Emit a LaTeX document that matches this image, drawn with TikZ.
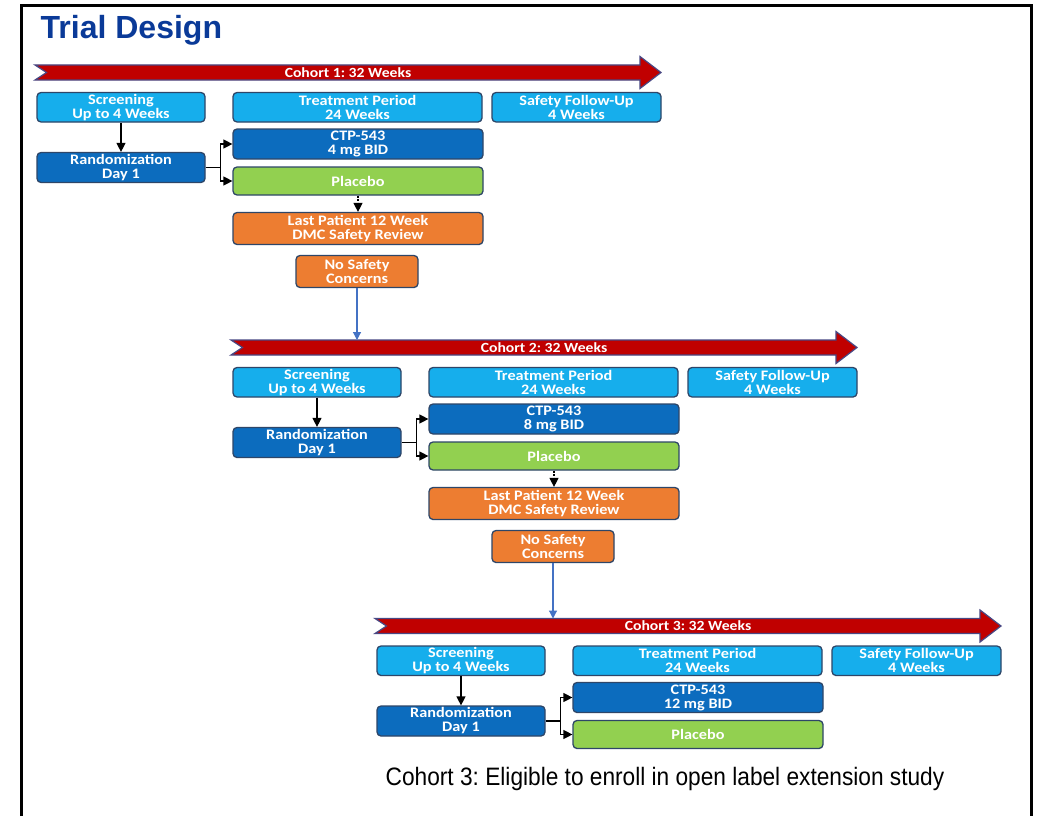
\documentclass[tikz,border=0pt]{standalone}
\usepackage{fontspec}
\usetikzlibrary{arrows.meta,calc}
\newfontfamily\boxfont{Carlito}[FakeStretch=1.12]
\newfontfamily\arialfont{Liberation Sans}
\newfontfamily\captionfont{Liberation Sans}[FakeStretch=0.9]
\frenchspacing
\definecolor{lightbox}{RGB}{22,174,236}
\definecolor{darkbox}{RGB}{12,108,190}
\definecolor{greenbox}{RGB}{146,208,80}
\definecolor{orangebox}{RGB}{237,125,49}
\definecolor{boxedge}{RGB}{46,70,104}
\definecolor{arrowred}{RGB}{192,0,0}
\definecolor{arrowedge}{RGB}{72,72,132}
\definecolor{titleblue}{RGB}{10,58,152}
\definecolor{linkblue}{RGB}{68,114,196}
\tikzset{
  box/.style={rounded corners=4pt, draw=boxedge, line width=1.3pt, text=white,
    font=\boxfont\bfseries\fontsize{14.5}{14}\selectfont, align=center, inner sep=0pt, outer sep=0.6pt},
  lightb/.style={box, fill=lightbox},
  darkb/.style={box, fill=darkbox},
  greenb/.style={box, fill=greenbox},
  orangeb/.style={box, fill=orangebox},
  conn/.style={line width=1.2pt, black, -{Triangle[length=9pt,width=9pt]}},
  dconn/.style={conn, dash pattern=on 2pt off 1.5pt},
  blueconn/.style={line width=1.2pt, linkblue, -{Triangle[length=8pt,width=8pt]}},
  cohortarrow/.style={fill=arrowred, draw=arrowedge, line width=1.2pt},
  arrowtext/.style={text=white, font=\boxfont\bfseries\fontsize{14}{16}\selectfont, inner sep=0pt}
}
\begin{document}
\begin{tikzpicture}[x=1pt,y=-1pt]
\useasboundingbox (0,0) rectangle (1038,816);
\fill[white] (0,0) rectangle (1038,816);
\draw[line width=3pt] (21.5,816) -- (21.5,5.5) -- (1031,5.5) -- (1031,816);
\node[anchor=base west, text=titleblue, font=\arialfont\bfseries\fontsize{32}{36}\selectfont, inner sep=0pt] (title) at (40.5,38.5) {Trial Design};
\foreach \n/\ox/\oy/\dose in {1/37/92.5/4, 2/233/367.5/8, 3/377/646/12}{
  % cohort arrow
  \pgfmathsetmacro{\L}{\ox-2}
  \pgfmathsetmacro{\T}{\ox+624}
  \pgfmathsetmacro{\H}{\ox+603}
  \pgfmathsetmacro{\N}{\ox+9.5}
  \pgfmathsetmacro{\cy}{\oy-20}
  \draw[cohortarrow] (\L,\cy-7.5) -- (\H,\cy-7.5) -- (\H,\cy-16) -- (\T,\cy) -- (\H,\cy+16) -- (\H,\cy+7.5) -- (\L,\cy+7.5) -- (\N,\cy) -- cycle;
  \coordinate (top\n) at ({\ox+123},{\cy-7.5});
  \node[arrowtext] (arr\n) at ({(\L+\T)/2},\cy) {Cohort \n: 32 Weeks};
  % boxes
  \node[lightb, minimum width=168pt, minimum height=29.5pt] (scr\n) at ({\ox+84},{\oy+14.75}) {Screening\\Up to 4 Weeks};
  \node[lightb, minimum width=249pt, minimum height=29.5pt] (trt\n) at ({\ox+320.5},{\oy+14.75}) {Treatment Period\\24 Weeks};
  \node[lightb, minimum width=169pt, minimum height=29.5pt] (saf\n) at ({\ox+539.5},{\oy+14.75}) {Safety Follow-Up\\4 Weeks};
  \node[darkb, minimum width=250pt, minimum height=30pt] (ctp\n) at ({\ox+321},{\oy+51.5}) {CTP-543\\\dose{} mg BID};
  \node[darkb, minimum width=168pt, minimum height=30pt] (rnd\n) at ({\ox+84},{\oy+75}) {Randomization\\Day 1};
  \node[greenb, minimum width=250pt, minimum height=28pt] (plc\n) at ({\ox+321},{\oy+88.5}) {Placebo};
  \coordinate (fork\n) at ({\ox+183.5},{\oy+75});
  \draw[conn] (scr\n.south) -- (rnd\n.north);
  \draw[line width=1.2pt] (rnd\n.east) -- (fork\n);
  \draw[conn] (fork\n) |- (ctp\n.west);
  \draw[conn] (fork\n) |- (plc\n.west);
  \ifnum\n<3
    \node[orangeb, minimum width=250pt, minimum height=32pt] (lst\n) at ({\ox+321},{\oy+136}) {Last Patient 12 Week\\DMC Safety Review};
    \node[orangeb, minimum width=122pt, minimum height=32pt] (nos\n) at ({\ox+320},{\oy+179}) {No Safety\\Concerns};
    \draw[dconn] (plc\n.south) -- (lst\n.north);
  \fi
}
\draw[blueconn] (nos1.south) -- (nos1.south |- top2);
\draw[blueconn] (nos2.south) -- (nos2.south |- top3);
\node[anchor=base, font=\captionfont\fontsize{25.2}{28}\selectfont, inner sep=0pt] (caption) at (665,785) {Cohort 3: Eligible to enroll in open label extension study};
\end{tikzpicture}
\end{document}
